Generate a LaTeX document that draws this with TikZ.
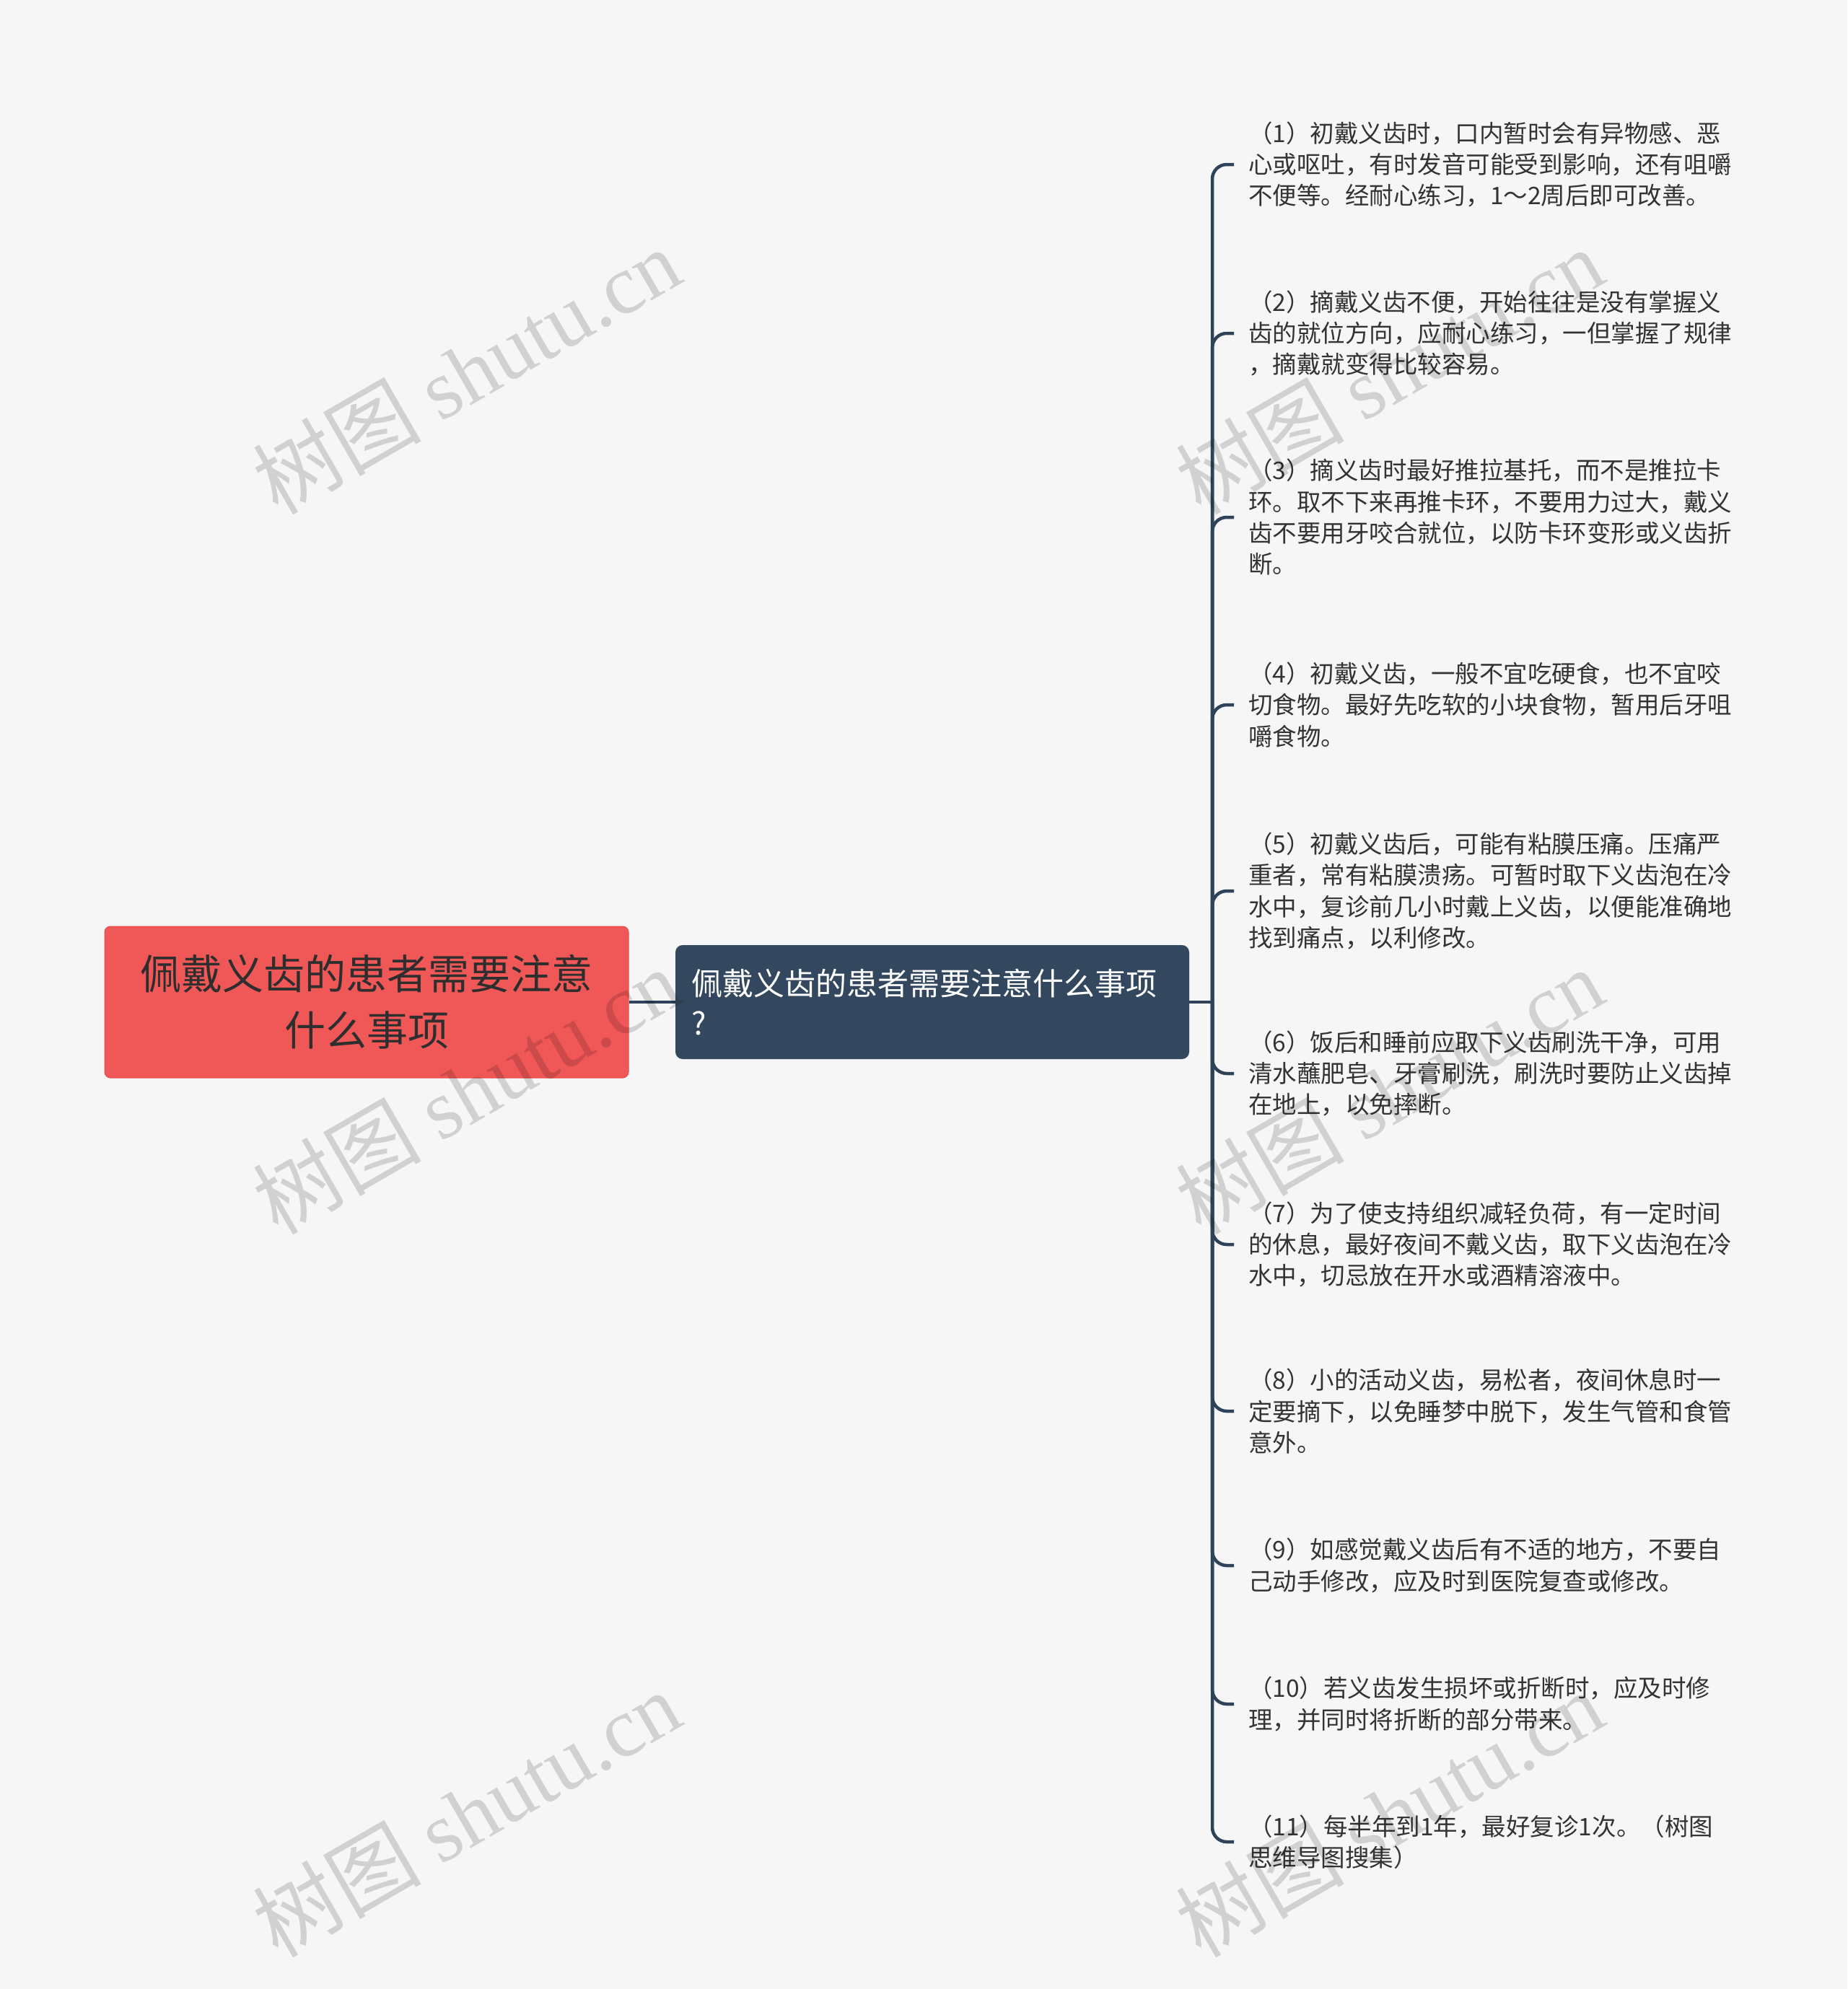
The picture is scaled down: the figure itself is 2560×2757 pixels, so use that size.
\documentclass[tikz,border=0pt]{standalone}
\usepackage{fontspec}
\setmainfont{Noto Sans CJK SC}
\newfontfamily\wmlatin{Liberation Serif}
\definecolor{bgc}{HTML}{F6F6F6}
\definecolor{rootfill}{HTML}{F05757}
\definecolor{rootedge}{HTML}{E84D4D}
\definecolor{midfill}{HTML}{33485E}
\definecolor{linec}{HTML}{2E4359}
\definecolor{itemtext}{HTML}{333333}
\definecolor{roottext}{HTML}{2E2E2E}
\begin{document}
\begin{tikzpicture}[x=1pt,y=-1pt,
  rootbox/.style={fill=rootfill, draw=rootedge, line width=1, rounded corners=8,
    minimum width=726, minimum height=210, align=center, text=roottext,
    inner sep=0, font=\fontsize{57}{78}\selectfont},
  midbox/.style={fill=midfill, rounded corners=10, text width=668, inner xsep=22,
    minimum height=158, align=left, text=white, font=\fontsize{43}{55}\selectfont},
  itembox/.style={anchor=west, inner xsep=20, inner ysep=0, align=left,
    text=itemtext, font=\fontsize{33.5}{43.3}\selectfont},
  branch/.style={draw=linec, line width=4.5, rounded corners=20},
  link/.style={draw=linec, line width=4.5},
  wmark/.style={rotate=30, text=black, text opacity=0.15, inner sep=0,
    font=\fontsize{117}{117}\selectfont}
]
\useasboundingbox (0,0) rectangle (2560,2757);
\fill[bgc] (0,0) rectangle (2560,2757);

% main nodes
\node[rootbox] (root) at (508,1389) {佩戴义齿的患者需要注意\\什么事项};
\node[midbox] (mid) at (1292,1389) {佩戴义齿的患者需要注意什么事项\\?};
\coordinate (spine) at (1680,1389);

% items
\node[itembox] (i1) at (1710,228) {（1）初戴义齿时，口内暂时会有异物感、恶\\心或呕吐，有时发音可能受到影响，还有咀嚼\\不便等。经耐心练习，1～2周后即可改善。};
\node[itembox] (i2) at (1710,462) {（2）摘戴义齿不便，开始往往是没有掌握义\\齿的就位方向，应耐心练习，一但掌握了规律\\，摘戴就变得比较容易。};
\node[itembox] (i3) at (1710,717) {（3）摘义齿时最好推拉基托，而不是推拉卡\\环。取不下来再推卡环，不要用力过大，戴义\\齿不要用牙咬合就位，以防卡环变形或义齿折\\断。};
\node[itembox] (i4) at (1710,977) {（4）初戴义齿，一般不宜吃硬食，也不宜咬\\切食物。最好先吃软的小块食物，暂用后牙咀\\嚼食物。};
\node[itembox] (i5) at (1710,1235) {（5）初戴义齿后，可能有粘膜压痛。压痛严\\重者，常有粘膜溃疡。可暂时取下义齿泡在冷\\水中，复诊前几小时戴上义齿，以便能准确地\\找到痛点，以利修改。};
\node[itembox] (i6) at (1710,1488) {（6）饭后和睡前应取下义齿刷洗干净，可用\\清水蘸肥皂、牙膏刷洗，刷洗时要防止义齿掉\\在地上，以免摔断。};
\node[itembox] (i7) at (1710,1725) {（7）为了使支持组织减轻负荷，有一定时间\\的休息，最好夜间不戴义齿，取下义齿泡在冷\\水中，切忌放在开水或酒精溶液中。};
\node[itembox] (i8) at (1710,1956) {（8）小的活动义齿，易松者，夜间休息时一\\定要摘下，以免睡梦中脱下，发生气管和食管\\意外。};
\node[itembox] (i9) at (1710,2170) {（9）如感觉戴义齿后有不适的地方，不要自\\己动手修改，应及时到医院复查或修改。};
\node[itembox] (i10) at (1710,2362) {（10）若义齿发生损坏或折断时，应及时修\\理，并同时将折断的部分带来。};
\node[itembox] (i11) at (1710,2553) {（11）每半年到1年，最好复诊1次。（树图\\思维导图搜集）};

% connectors
\draw[link] (root.east) -- (mid.west);
\draw[link] (mid.east) -- (spine);
\foreach \k in {1,...,11}{
  \draw[branch] (spine) |- (i\k.west);
}

% watermarks
\foreach \wx in {646,1925}{
  \foreach \wy in {514,1512,2514}{
    \node[wmark] at (\wx,\wy) {树图 {\wmlatin shutu.cn}};
  }
}
\end{tikzpicture}
\end{document}
